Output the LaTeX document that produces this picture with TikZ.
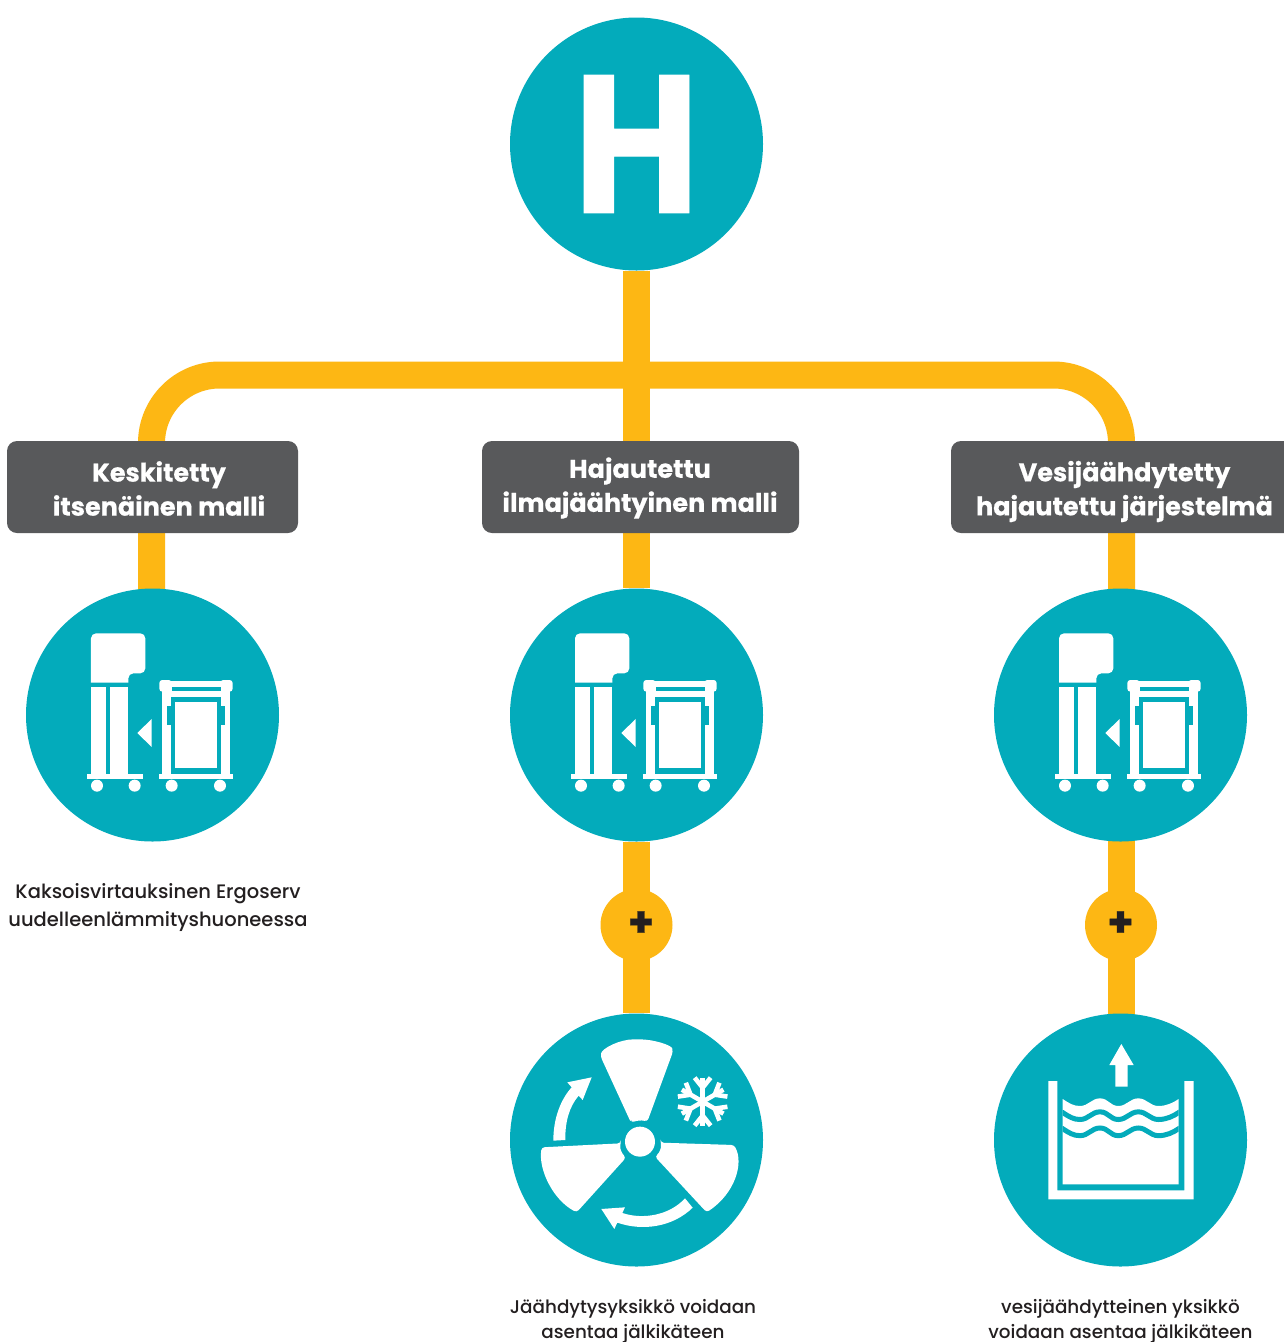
\documentclass[tikz,border=0pt]{standalone}
\usepackage{fontspec}
\setmainfont{Poppins}[BoldFeatures={FakeBold=0.5}]
\newfontfamily\bodyfont{Poppins Medium}
\usetikzlibrary{backgrounds}
\definecolor{teal}{HTML}{03ABBB}
\definecolor{amber}{HTML}{FDB714}
\definecolor{slate}{HTML}{58595B}
\definecolor{ink}{HTML}{231F20}
\tikzset{
  disc/.style={circle,fill=teal,minimum size=253pt,inner sep=0pt},
  plusdisc/.style={circle,fill=amber,minimum size=72pt,inner sep=0pt},
  plussign/.style={text=ink,inner sep=0pt,font=\bfseries\fontsize{42}{42}\selectfont},
  boxbg/.style={fill=slate,rounded corners=10pt,inner sep=0pt,minimum height=92pt},
  heading/.style={text=white,align=center,inner sep=0pt,font=\bfseries\fontsize{25.5}{34}\selectfont},
  caption/.style={text=ink,align=center,inner sep=0pt},
  conn/.style={draw=amber,line width=27pt},
  iconfill/.style={fill=white},
}
\newcommand{\unitsicon}[1]{%
\begin{scope}[shift={(60+#1,610)},x=0.3333pt,y=-0.3333pt]
  \fill[iconfill] (93,218) [rounded corners=5pt] -- (93,70) -- (256,70) -- (256,190) -- (205,190) [sharp corners] -- (205,218) -- cycle;
  \fill[iconfill] (93,232) rectangle (138,495);
  \fill[iconfill] (150,232) rectangle (205,495);
  \fill[iconfill] (82,492) rectangle (250,508);
  \fill[iconfill] (111,527) circle (18);
  \fill[iconfill] (224,527) circle (18);
  \fill[iconfill] (232,369) -- (275,327) -- (275,411) -- cycle;
  \fill[iconfill] (307,213) rectangle (509,500);
  \fill[iconfill,rounded corners=3pt] (298,210) rectangle (335,245);
  \fill[iconfill,rounded corners=3pt] (481,210) rectangle (518,245);
  \fill[iconfill] (298,492) rectangle (518,508);
  \fill[teal] (335,230) rectangle (482,243);
  \fill[teal] (333,262) rectangle (483,492);
  \fill[teal] (321,288) rectangle (333,345);
  \fill[teal] (483,288) rectangle (495,345);
  \fill[iconfill] (345,275) rectangle (471,473);
  \fill[iconfill] (335,527) circle (18);
  \fill[iconfill] (480,527) circle (18);
\end{scope}}
\begin{document}
\begin{tikzpicture}[x=1pt,y=-1pt]
\useasboundingbox (0,0) rectangle (1284,1342);
\clip (0,0) rectangle (1284,1342);

% main nodes
\node[disc,text=white,font=\bfseries\fontsize{196}{196}\selectfont] (H) at (636.5,144) {\scalebox{0.88}[1]{H}};
\node[boxbg,minimum width=291pt] (b1) at (152.5,487) {};
\node[boxbg,minimum width=317pt] (b2) at (640.5,487) {};
\node[boxbg,minimum width=347pt] (b3) at (1124.5,487) {};
\node[disc] (c1) at (152.5,715) {};
\node[disc] (c2) at (636.5,715) {};
\node[disc] (c3) at (1120.5,715) {};
\node[plusdisc] (p2) at (636.5,925) {};
\node[plusdisc] (p3) at (1121,925) {};
\node[disc] (f2) at (636.5,1140) {};
\node[disc] (f3) at (1120.5,1140) {};
\coordinate (jl) at (151.5,375);
\coordinate (jr) at (1121.5,375);
\coordinate (j1) at (151.5,600);
\coordinate (j3) at (1121.5,600);
\coordinate (j4) at (1121.5,1030);

% connectors
\begin{scope}[on background layer]
  \fill[white] (0,0) rectangle (1284,1342);
  \draw[conn] (H) -- (c2);
  \draw[conn] (c2) -- (f2);
  \draw[conn] (j3) -- (j4);
  \draw[conn,rounded corners=68pt] (j1) -- (jl) -- (jr) -- (j3);
\end{scope}

% labels
\node[heading] (t1) at (159,488.5) {Keskitetty\\itsenäinen malli};
\node[heading] (t2) at (640,488) {Hajautettu\\ilmajäähtyinen malli};
\node[heading] (t3) at (1124.5,491.5) {Vesijäähdytetty\\hajautettu järjestelmä};
\node[plussign] (s2) at (641,924) {+};
\node[plussign] (s3) at (1120.5,924) {+};
\node[caption,font=\bodyfont\fontsize{19.5}{28}\selectfont] (k1) at (158,908) {Kaksoisvirtauksinen Ergoserv\\uudelleenlämmityshuoneessa};
\node[caption,font=\bodyfont\fontsize{18.35}{25}\selectfont] (k2) at (633,1321) {Jäähdytysyksikkö voidaan\\asentaa jälkikäteen};
\node[caption,font=\bodyfont\fontsize{18.35}{25}\selectfont] (k3) at (1120.5,1321) {vesijäähdytteinen yksikkö\\voidaan asentaa jälkikäteen};

% unit icons
\unitsicon{0}
\unitsicon{484}
\unitsicon{968}

% fan icon
\begin{scope}[shift={(530,1030)},x=0.3333pt,y=-0.3333pt]
  \fill[iconfill] (330,335) circle (45);
  \fill[iconfill,rounded corners=3pt] (303,278) -- (212,80) .. controls (215,55) and (270,28) .. (320,28) .. controls (370,28) and (425,45) .. (429,65) -- (352,275) .. controls (335,270) and (320,272) .. (303,278) -- cycle;
  \fill[iconfill,rounded corners=3pt] (392,338) -- (612,345) .. controls (642,400) and (615,490) .. (530,547) -- (375,380) .. controls (388,368) and (394,355) .. (392,338) -- cycle;
  \fill[iconfill,rounded corners=3pt] (272,340) -- (35,352) .. controls (25,420) and (70,510) .. (140,547) -- (288,383) .. controls (276,370) and (270,358) .. (272,340) -- cycle;
  \fill[iconfill] (70,332) .. controls (70,260) and (95,205) .. (125,172) -- (112,157) -- (185,142) -- (158,210) -- (146,197) .. controls (118,230) and (105,275) .. (106,330) -- cycle;
  \fill[iconfill] (488,533) .. controls (430,590) and (340,605) .. (262,578) -- (253,597) -- (214,537) -- (285,532) -- (277,549) .. controls (340,570) and (420,555) .. (465,505) -- cycle;
  \foreach \a in {0,60,...,300}{
    \begin{scope}[shift={(518,215)},rotate=\a]
      \draw[white,line width=4.6pt] (0,0) -- (0,-72);
      \draw[white,line width=4.6pt] (-24,-72) -- (0,-42) -- (24,-72);
    \end{scope}
  }
\end{scope}

% water icon
\begin{scope}[shift={(1030,1030)},x=0.3333pt,y=-0.3333pt]
  \fill[iconfill] (55,153) -- (82,153) -- (82,481) -- (463,481) -- (463,153) -- (491,153) -- (491,508) -- (55,508) -- cycle;
  \fill[iconfill] (274,42) -- (311,105) -- (293,105) -- (293,170) -- (256,170) -- (256,105) -- (238,105) -- cycle;
  \fill[iconfill] (98,207) .. controls (118,220) and (130,228) .. (150,228) .. controls (175,228) and (185,205) .. (210,205) .. controls (235,205) and (240,228) .. (265,228) .. controls (290,228) and (300,205) .. (325,205) .. controls (350,205) and (360,228) .. (385,228) .. controls (410,228) and (430,218) .. (446,207) -- (446,463) -- (98,463) -- cycle;
  \begin{scope}
    \clip (98,200) rectangle (446,463);
    \draw[teal,line width=5pt] (60,207+36) -- (98,207+40.5) .. controls (118,220+40.5) and (130,228+40.5) .. (150,228+40.5) .. controls (175,228+40.5) and (185,205+40.5) .. (210,205+40.5) .. controls (235,205+40.5) and (240,228+40.5) .. (265,228+40.5) .. controls (290,228+40.5) and (300,205+40.5) .. (325,205+40.5) .. controls (350,205+40.5) and (360,228+40.5) .. (385,228+40.5) .. controls (410,228+40.5) and (430,218+40.5) .. (446,207+40.5) -- (480,207+20);
    \draw[teal,line width=5pt] (60,207+85) -- (98,207+89) .. controls (118,220+89) and (130,228+89) .. (150,228+89) .. controls (175,228+89) and (185,205+89) .. (210,205+89) .. controls (235,205+89) and (240,228+89) .. (265,228+89) .. controls (290,228+89) and (300,205+89) .. (325,205+89) .. controls (350,205+89) and (360,228+89) .. (385,228+89) .. controls (410,228+89) and (430,218+89) .. (446,207+89) -- (480,207+69);
  \end{scope}
\end{scope}
\end{tikzpicture}
\end{document}
